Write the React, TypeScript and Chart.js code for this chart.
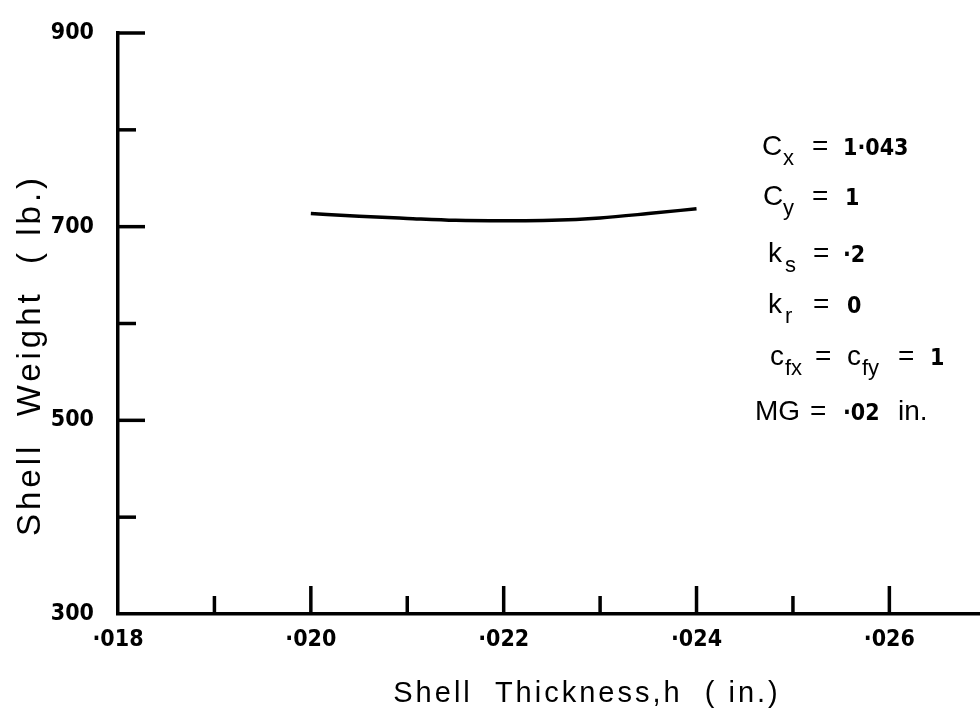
import React, { useEffect, useRef } from "react";
import { Chart, registerables } from "chart.js";

Chart.register(...registerables);

// ---- data ----
const thickness = [0.02, 0.0205, 0.021, 0.0215, 0.022, 0.0225, 0.023, 0.0235, 0.024];
const weight = [713.5, 710.7, 708.5, 706.5, 706, 706.5, 709, 713.5, 718.5];
const xMin = 0.018;
const xMax = 0.02694;
const xStep = 0.001;
const yMin = 300;
const yMax = 900;
const yStep = 100;
const xLabeledThousandths = [18, 20, 22, 24, 26];
const yLabeled = [300, 500, 700, 900];
const xTitle = "Shell  Thickness,h  ( in.)";
const yTitle = "Shell  Weight  ( lb.)";

// annotation rows: [text, kind]
const noteRows: [string, string][][] = [
  [["C", "m"], ["x", "s"], ["=", "m"], ["1·043", "n"]],
  [["C", "m"], ["y", "s"], ["=", "m"], ["1", "n"]],
  [["k", "m"], ["s", "s"], ["=", "m"], ["·2", "n"]],
  [["k", "m"], ["r", "s"], ["=", "m"], ["0", "n"]],
  [["c", "m"], ["fx", "s"], ["=", "m"], ["c", "m"], ["fy", "s"], ["=", "m"], ["1", "n"]],
  [["MG", "m"], ["=", "m"], ["·02", "n"], ["in.", "m"]],
];
// layout for annotation (x of each segment, baseline of each row)
const noteX = [
  [762, 783, 812, 843],
  [763, 783, 812, 845],
  [768, 785, 813, 843],
  [768, 785, 813, 847],
  [770, 785, 815, 847, 862, 898, 930],
  [755, 810, 843, 898],
];
const noteBaseline = [155, 205, 262, 313, 365, 420];

const SANS = "'Liberation Sans', Arial, Helvetica, sans-serif";
const NARROW = "'Liberation Sans Narrow', 'DejaVu Sans Condensed', 'Liberation Sans', sans-serif";

const decor = {
  id: "decor",
  afterDraw(chart: any) {
    const { ctx, chartArea } = chart;
    const xs = chart.scales.x;
    const ys = chart.scales.y;
    ctx.save();
    ctx.strokeStyle = "#000";
    ctx.lineWidth = 3.5;
    ctx.lineCap = "butt";
    xs.ticks.forEach((t: any) => {
      const k = Math.round(t.value * 1000);
      if (k === 18) return;
      const px = xs.getPixelForValue(t.value);
      const len = k % 2 === 0 ? 28 : 18;
      ctx.beginPath();
      ctx.moveTo(px, chartArea.bottom);
      ctx.lineTo(px, chartArea.bottom - len);
      ctx.stroke();
    });
    ys.ticks.forEach((t: any) => {
      const v = Math.round(t.value);
      if (v === yMin) return;
      const py = ys.getPixelForValue(t.value);
      const len = (v - yMin) % 200 === 0 ? 27 : 18;
      ctx.beginPath();
      ctx.moveTo(chartArea.left, py);
      ctx.lineTo(chartArea.left + len, py);
      ctx.stroke();
    });

    ctx.fillStyle = "#000";
    // axis titles
    (ctx as any).letterSpacing = "3px";
    ctx.font = `29px ${SANS}`;
    ctx.textAlign = "center";
    ctx.textBaseline = "alphabetic";
    ctx.fillText(xTitle, 587, 702);
    ctx.save();
    ctx.translate(40, 355);
    ctx.rotate(-Math.PI / 2);
    (ctx as any).letterSpacing = "4px";
    ctx.font = `33px ${SANS}`;
    ctx.fillText(yTitle, 0, 0);
    ctx.restore();
    (ctx as any).letterSpacing = "0px";

    // annotation block
    ctx.textAlign = "left";
    noteRows.forEach((row, r) => {
      row.forEach(([txt, kind], i) => {
        let dy = 0;
        if (kind === "m") ctx.font = `28px ${SANS}`;
        else if (kind === "s") {
          ctx.font = `22px ${SANS}`;
          dy = 10;
        } else ctx.font = `bold 23px ${NARROW}`;
        ctx.fillText(txt, noteX[r][i], noteBaseline[r] + dy);
      });
    });
    ctx.restore();
  },
};

export default function App() {
  const ref = useRef<HTMLCanvasElement | null>(null);
  useEffect(() => {
    document.body.style.margin = "0";
    if (!ref.current) return;
    const chart = new Chart(ref.current, {
      type: "scatter",
      data: {
        datasets: [
          {
            data: thickness.map((t, i) => ({ x: t, y: weight[i] })),
            showLine: true,
            borderColor: "#000",
            borderWidth: 3.5,
            pointRadius: 0,
            tension: 0.4,
            cubicInterpolationMode: "monotone",
            fill: false,
          },
        ],
      },
      options: {
        responsive: false,
        animation: false,
        events: [],
        layout: { padding: { top: 33, right: 0, left: 0, bottom: 0 } },
        plugins: { legend: { display: false }, tooltip: { enabled: false }, title: { display: false } },
        scales: {
          x: {
            type: "linear",
            min: xMin,
            max: xMax,
            grid: { display: false, drawTicks: false },
            border: { display: true, color: "#000", width: 3.5 },
            afterFit: (s: any) => {
              s.height = 95;
              s.paddingLeft = 0;
              s.paddingRight = 0;
            },
            ticks: {
              stepSize: xStep,
              includeBounds: false,
              autoSkip: false,
              maxRotation: 0,
              padding: 12,
              color: "#000",
              font: { family: NARROW, size: 23, weight: "bold" },
              callback: (v: any) => {
                const k = Math.round(Number(v) * 1000);
                return xLabeledThousandths.includes(k) ? "·" + String(k).padStart(3, "0") : "";
              },
            },
          },
          y: {
            type: "linear",
            min: yMin,
            max: yMax,
            grid: { display: false, drawTicks: false },
            border: { display: true, color: "#000", width: 3.5 },
            afterFit: (s: any) => {
              s.width = 118;
              s.paddingTop = 0;
              s.paddingBottom = 0;
            },
            ticks: {
              stepSize: yStep,
              autoSkip: false,
              padding: 24,
              color: "#000",
              font: { family: NARROW, size: 23, weight: "bold" },
              callback: (v: any) => (yLabeled.includes(Math.round(Number(v))) ? String(Math.round(Number(v))) : ""),
            },
          },
        },
      },
      plugins: [decor],
    } as any);
    return () => chart.destroy();
  }, []);
  return (
    <div style={{ position: "fixed", left: 0, top: 0, width: 980, height: 709, background: "#fff" }}>
      <canvas ref={ref} width={980} height={709} />
    </div>
  );
}
